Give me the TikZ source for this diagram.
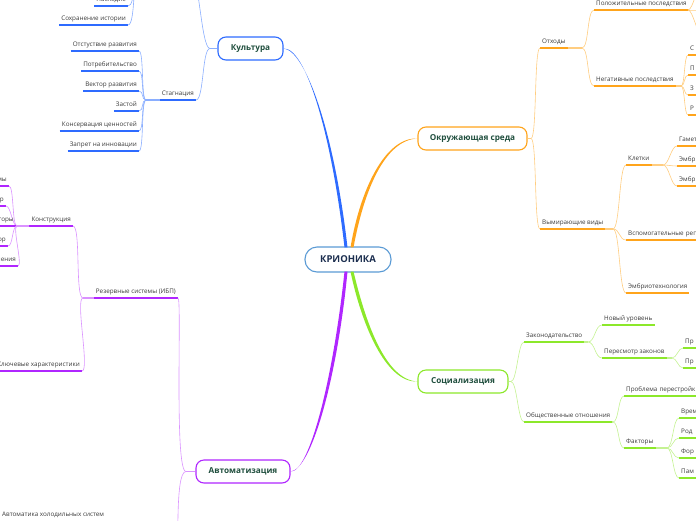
\documentclass[tikz,border=0pt]{standalone}
\usepackage{fontspec}
\setmainfont{Open Sans}
\usetikzlibrary{calc, positioning}

\definecolor{rootblue}{HTML}{5B9BD5}
\definecolor{roottext}{HTML}{1C2E4F}
\definecolor{topictext}{HTML}{1F4E3D}
\definecolor{lbltext}{HTML}{3A3A3A}
\definecolor{cultblue}{HTML}{2E6BFF}
\definecolor{cultlight}{HTML}{8AAEFF}
\definecolor{envorange}{HTML}{FFA41B}
\definecolor{envlight}{HTML}{FFCD80}
\definecolor{socgreen}{HTML}{8CE82A}
\definecolor{soclight}{HTML}{C4F292}
\definecolor{autpurple}{HTML}{B026FF}
\definecolor{autlight}{HTML}{DA92FF}

\begin{document}
\begin{tikzpicture}[x=1pt, y=-1pt,
    topic/.style={draw, line width=1.1pt, fill=white, rounded corners=8pt, minimum height=23pt,
        font=\fontsize{8.2}{10}\selectfont\bfseries, text=topictext},
    lbl/.style={font=\fontsize{6.3}{8}\selectfont, text=lbltext, inner xsep=2pt, inner ysep=2.5pt,
        text height=5pt, text depth=1.5pt},
    uline/.style={line width=1.5pt},
    lft/.style={lbl, anchor=south east,
        append after command={(\tikzlastnode.south west) edge[uline, #1] (\tikzlastnode.south east)}},
    rgt/.style={lbl, anchor=south west,
        append after command={(\tikzlastnode.south west) edge[uline, #1] (\tikzlastnode.south east)}},
    rim/.style={text width=80pt, align=left},
    twig/.style={line width=0.6pt}]

\useasboundingbox (0,0) rectangle (696,520);
\clip (0,0) rectangle (696,520);

% main topics
\node[topic, draw=rootblue, rounded corners=12pt, minimum width=86pt, minimum height=25pt,
    font=\fontsize{9.5}{11}\selectfont\bfseries, text=roottext] (root) at (348,259.5) {КРИОНИКА};
\node[topic, draw=cultblue, minimum width=65pt] (kult) at (250.5,48.5) {Культура};
\node[topic, draw=envorange, minimum width=109pt] (env) at (472.5,138.5) {Окружающая среда};
\node[topic, draw=socgreen, minimum width=90pt] (soc) at (463,381.5) {Социализация};
\node[topic, draw=autpurple, minimum width=94pt] (aut) at (243,471.5) {Автоматизация};

% tapered links from the root
\fill[cultblue] ($(root.north)+(-3.5,1)$) .. controls (331,130) and (305,47) .. (kult.east)
    .. controls (305,50) and (334,130) .. ($(root.north)+(-0.5,1)$) -- cycle;
\fill[envorange] ($(root.north)+(2.5,1)$) .. controls (360,190) and (385,137) .. (env.west)
    .. controls (385,140) and (364,190) .. ($(root.north)+(5.5,1)$) -- cycle;
\fill[socgreen] ($(root.south)+(2.5,-1)$) .. controls (361,322) and (385,383) .. (soc.west)
    .. controls (385,380) and (365,320) .. ($(root.south)+(5.5,-1)$) -- cycle;
\fill[autpurple] ($(root.south)+(-3.5,-1)$) .. controls (333,380) and (309,473) .. (aut.east)
    .. controls (311,470) and (337,380) .. ($(root.south)+(-0.5,-1)$) -- cycle;

% Культура
\coordinate (kult-j) at (210,48.5);
\coordinate (past) at (190,-30);
\coordinate (past-j) at (140,-30);
\draw[twig, cultlight] (kult.west) -- (kult-j);
\draw[twig, cultlight] (kult-j) .. controls +(-9,0) and +(9,0) .. (past);
\node[lft=cultblue] (stag) at (196,100) {Стагнация};
\draw[twig, cultlight] (kult-j) .. controls +(-8,0) and +(8,0) .. (stag.south east);
\coordinate (stag-j) at (146,100);
\draw[uline, cultlight] (stag.south west) -- (stag-j);
\foreach \nm/\yy/\txt in {otst/51/Отстуствие развития, potr/71/Потребительство,
    vekt/91/Вектор развития, zast/111/Застой, kons/131/Консервация ценностей,
    zapr/151/Запрет на инновации} {
    \node[lft=cultblue] (\nm) at (139,\yy) {\txt};
    \draw[twig, cultlight] (stag-j) .. controls +(-5,0) and +(5,0) .. (\nm.south east);
}
\foreach \nm/\yy/\txt in {nasl/6/Наследие, hist/25/Сохранение истории} {
    \node[lft=cultblue] (\nm) at (128,\yy) {\txt};
    \draw[twig, cultlight] (past-j) .. controls +(-8,0) and +(8,0) .. (\nm.south east);
}

% Автоматизация
\coordinate (aut-j) at (186,471.5);
\coordinate (aut-dn) at (176,560);
\draw[twig, autlight] (aut.west) -- (aut-j);
\node[lft=autpurple] (rez) at (178,298) {Резервные системы (ИБП)};
\draw[twig, autlight] (aut-j) .. controls +(-12,0) and +(4,0) .. (rez.south east);
\draw[twig, autlight] (aut-j) .. controls +(-12,0) and +(4,0) .. (aut-dn);
\node[lbl, anchor=south west] (frig) at (0,520.5) {Автоматика холодильных систем};
\coordinate (rez-j) at (83,298);
\draw[uline, autlight] (rez.south west) -- (rez-j);
\node[lft=autpurple] (konstr) at (73,226) {Конструкция};
\node[lft=autpurple] (kluch) at (82,371) {Ключевые характеристики};
\draw[twig, autlight] (rez-j) .. controls +(-8,0) and +(8,0) .. (konstr.south east);
\draw[twig, autlight] (rez-j) .. controls +(-8,0) and +(8,0) .. (kluch.south east);
\coordinate (konstr-j) at (17,226);
\draw[uline, autlight] (konstr.south west) -- (konstr-j);
\foreach \nm/\xx/\yy/\txt in {k1/9/186/мы, k2/6/206/р, k3/16/226/торы, k4/8/246/ор, k5/18/266/ления} {
    \node[lft=autpurple] (\nm) at (\xx,\yy) {\txt};
    \draw[twig, autlight] (konstr-j) .. controls +(-5,0) and +(5,0) .. (\nm.south east);
}

% Окружающая среда
\coordinate (env-j) at (531,138.5);
\draw[twig, envlight] (env.east) -- (env-j);
\node[rgt=envorange] (waste) at (540,48) {Отходы};
\node[rgt=envorange] (extinct) at (540,229) {Вымирающие виды};
\draw[twig, envlight] (env-j) .. controls +(6,0) and +(-6,0) .. (waste.south west);
\draw[twig, envlight] (env-j) .. controls +(6,0) and +(-6,0) .. (extinct.south west);
\coordinate (waste-j) at (582,48);
\draw[uline, envlight] (waste.south east) -- (waste-j);
\node[rgt=envorange] (pos) at (594,10) {Положительные последствия};
\node[rgt=envorange] (neg) at (594,86) {Негативные последствия};
\draw[twig, envlight] (waste-j) .. controls +(7,0) and +(-7,0) .. (pos.south west);
\draw[twig, envlight] (waste-j) .. controls +(7,0) and +(-7,0) .. (neg.south west);
\coordinate (pos-j) at (688,10);
\coordinate (pos-a) at (702,-15);
\coordinate (pos-b) at (702,35);
\coordinate (pos-c) at (702,10);
\draw[uline, envlight] (pos.south east) -- (pos-j);
\foreach \pt in {pos-a, pos-b, pos-c}
    \draw[twig, envlight] (pos-j) .. controls +(5,0) and +(-5,0) .. (\pt);
\coordinate (neg-j) at (681,86);
\draw[uline, envlight] (neg.south east) -- (neg-j);
\foreach \nm/\yy/\txt in {n1/55/С, n2/75/П, n3/95/З, n4/115/Р} {
    \node[rgt=envorange, rim] (\nm) at (688,\yy) {\txt};
    \draw[twig, envlight] (neg-j) .. controls +(4,0) and +(-4,0) .. (\nm.south west);
}
\coordinate (extinct-j) at (613,229);
\draw[uline, envlight] (extinct.south east) -- (extinct-j);
\node[rgt=envorange] (cells) at (626,165) {Клетки};
\node[rgt=envorange, rim] (aux) at (626,240) {Вспомогательные репр};
\node[rgt=envorange] (embt) at (626,293) {Эмбриотехнология};
\foreach \nm in {cells, aux, embt}
    \draw[twig, envlight] (extinct-j) .. controls +(7,0) and +(-7,0) .. (\nm.south west);
\coordinate (cells-j) at (663,165);
\draw[uline, envlight] (cells.south east) -- (cells-j);
\foreach \nm/\yy/\txt in {c1/146/Гамет, c2/166/Эмбр, c3/186/Эмбр} {
    \node[rgt=envorange, rim] (\nm) at (677,\yy) {\txt};
    \draw[twig, envlight] (cells-j) .. controls +(6,0) and +(-6,0) .. (\nm.south west);
}

% Социализация
\coordinate (soc-j) at (511,381.5);
\draw[twig, soclight] (soc.east) -- (soc-j);
\node[rgt=socgreen] (law) at (524,342) {Законодательство};
\node[rgt=socgreen] (rel) at (524,422) {Общественные отношения};
\draw[twig, soclight] (soc-j) .. controls +(6,0) and +(-6,0) .. (law.south west);
\draw[twig, soclight] (soc-j) .. controls +(6,0) and +(-6,0) .. (rel.south west);
\coordinate (law-j) at (588,342);
\draw[uline, soclight] (law.south east) -- (law-j);
\node[rgt=socgreen] (newlvl) at (602,325) {Новый уровень};
\node[rgt=socgreen] (revis) at (602,358) {Пересмотр законов};
\draw[twig, soclight] (law-j) .. controls +(7,0) and +(-7,0) .. (newlvl.south west);
\draw[twig, soclight] (law-j) .. controls +(7,0) and +(-7,0) .. (revis.south west);
\coordinate (revis-j) at (672,358);
\draw[uline, soclight] (revis.south east) -- (revis-j);
\foreach \nm/\yy in {pr1/348, pr2/368} {
    \node[rgt=socgreen, rim] (\nm) at (683,\yy) {Пр};
    \draw[twig, soclight] (revis-j) .. controls +(5,0) and +(-5,0) .. (\nm.south west);
}
\coordinate (rel-j) at (613,422);
\draw[uline, soclight] (rel.south east) -- (rel-j);
\node[rgt=socgreen, rim] (rebuild) at (624,396) {Проблема перестройк};
\node[rgt=socgreen] (fact) at (624,448) {Факторы};
\draw[twig, soclight] (rel-j) .. controls +(6,0) and +(-6,0) .. (rebuild.south west);
\draw[twig, soclight] (rel-j) .. controls +(6,0) and +(-6,0) .. (fact.south west);
\coordinate (fact-j) at (667,448);
\draw[uline, soclight] (fact.south east) -- (fact-j);
\foreach \nm/\yy/\txt in {f1/418/Врем, f2/438/Род, f3/458/Фор, f4/478/Пам} {
    \node[rgt=socgreen, rim] (\nm) at (679,\yy) {\txt};
    \draw[twig, soclight] (fact-j) .. controls +(6,0) and +(-6,0) .. (\nm.south west);
}
\end{tikzpicture}
\end{document}
